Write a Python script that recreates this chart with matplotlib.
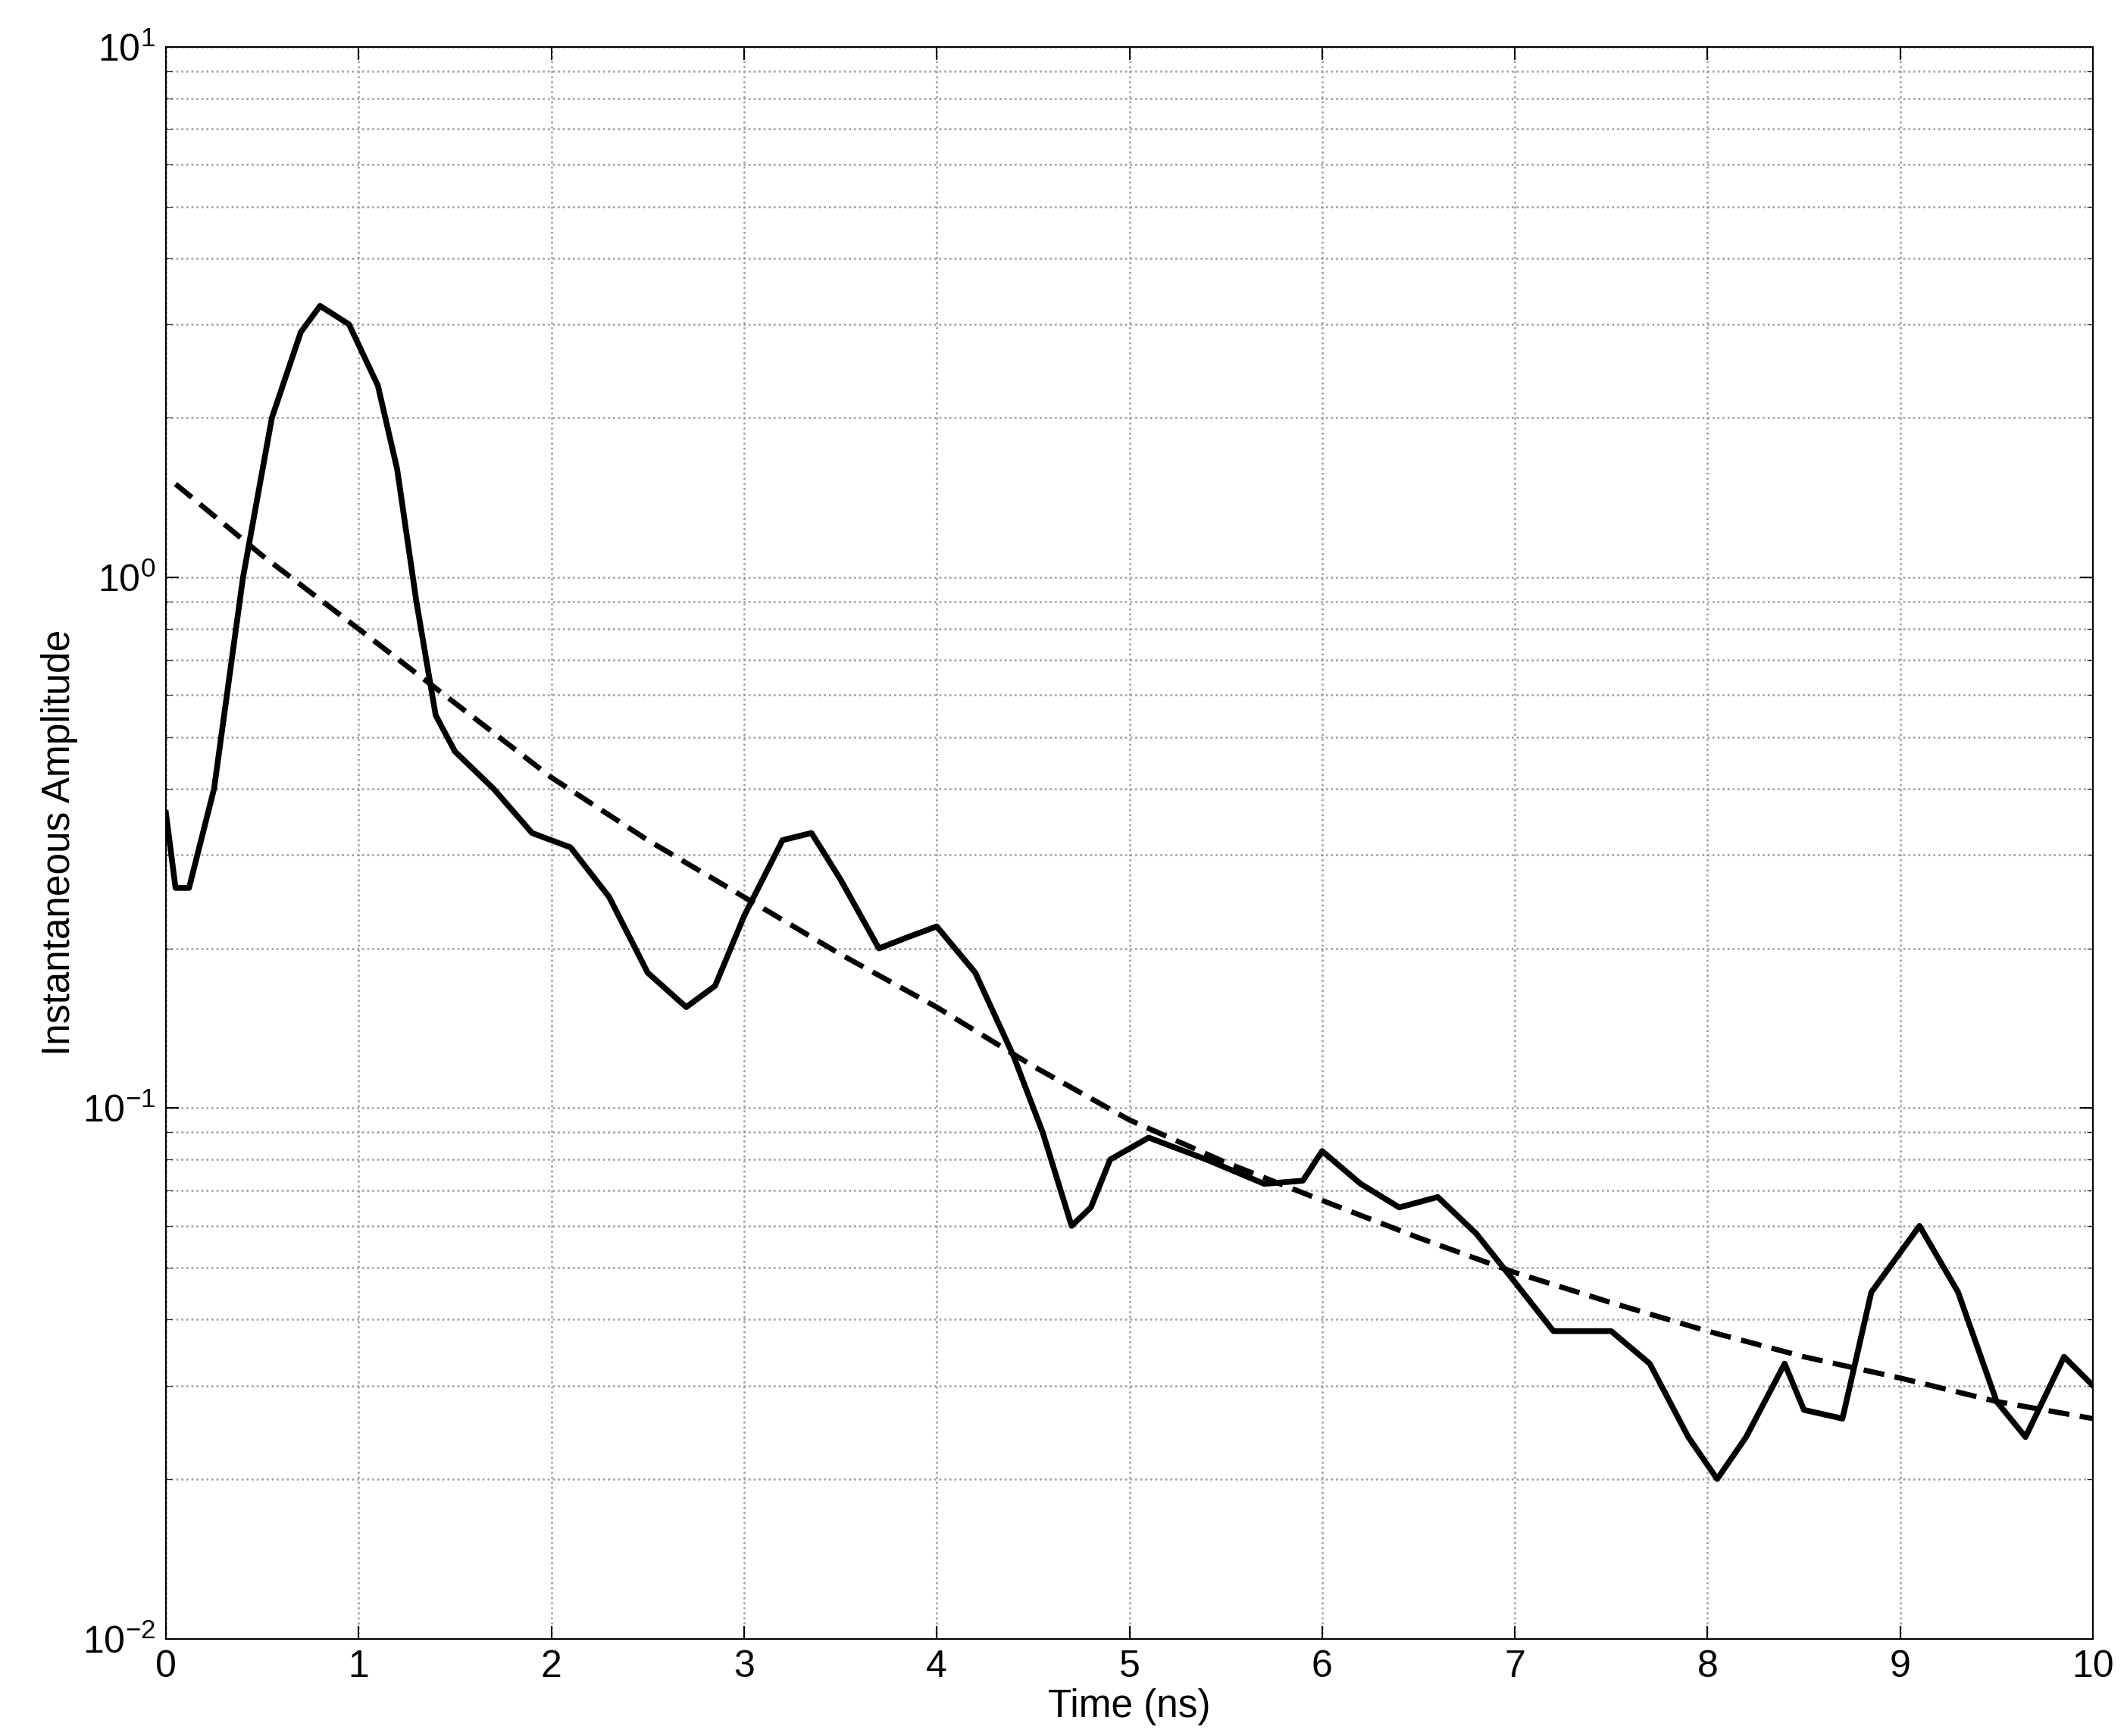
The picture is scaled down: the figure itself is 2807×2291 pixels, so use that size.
import matplotlib
matplotlib.use("Agg")
import matplotlib.pyplot as plt
from matplotlib.ticker import LogLocator, MultipleLocator

plt.rcParams['font.family'] = ['Liberation Sans', 'DejaVu Sans']

# measured instantaneous amplitude
t_meas = [0, 0.05, 0.12, 0.25, 0.4, 0.55, 0.7, 0.8, 0.95, 1.1, 1.2, 1.3, 1.4, 1.5, 1.7, 1.9,
          2.1, 2.3, 2.5, 2.7, 2.85, 3.0, 3.2, 3.35, 3.5, 3.7, 3.85, 4.0, 4.2, 4.4, 4.55,
          4.7, 4.8, 4.9, 5.1, 5.4, 5.7, 5.9, 6.0, 6.2, 6.4, 6.6, 6.8, 7.0, 7.2, 7.5,
          7.7, 7.9, 8.05, 8.2, 8.4, 8.5, 8.7, 8.85, 9.1, 9.3, 9.5, 9.65, 9.85, 10.0]
a_meas = [0.36, 0.26, 0.26, 0.40, 1.0, 2.0, 2.9, 3.25, 3.0, 2.3, 1.6, 0.9, 0.55, 0.47, 0.40, 0.33,
          0.31, 0.25, 0.18, 0.155, 0.17, 0.23, 0.32, 0.33, 0.27, 0.20, 0.21, 0.22, 0.18, 0.125, 0.09,
          0.06, 0.065, 0.08, 0.088, 0.080, 0.072, 0.073, 0.083, 0.072, 0.065, 0.068, 0.058, 0.047, 0.038, 0.038,
          0.033, 0.024, 0.020, 0.024, 0.033, 0.027, 0.026, 0.045, 0.060, 0.045, 0.028, 0.024, 0.034, 0.030]

# fitted decay
t_fit = [0.05, 0.5, 1, 1.5, 2, 2.5, 3, 3.5, 4, 4.5, 5, 5.5, 6, 6.5, 7, 7.5, 8, 8.5, 9, 9.5, 10]
a_fit = [1.5, 1.1, 0.80, 0.58, 0.42, 0.32, 0.25, 0.195, 0.155, 0.12, 0.095, 0.079, 0.067,
         0.057, 0.049, 0.043, 0.038, 0.034, 0.031, 0.028, 0.026]

fig = plt.figure(figsize=(28.07, 22.91), dpi=100)
ax = fig.add_axes([0.078, 0.056, 0.906, 0.917])
ax.semilogy(t_meas, a_meas, color='black', lw=5.5)
ax.semilogy(t_fit, a_fit, color='black', lw=5, ls=(0, (4, 2)))
ax.set_xlim(0, 10)
ax.set_ylim(1e-2, 1e1)
ax.xaxis.set_major_locator(MultipleLocator(1))
ax.yaxis.set_major_locator(LogLocator(base=10))
ax.yaxis.set_minor_locator(LogLocator(base=10, subs=range(2, 10)))
ax.grid(True, which='major', color='#999999', ls=':', lw=1.8)
ax.grid(True, which='minor', axis='y', color='#999999', ls=':', lw=1.8)
ax.tick_params(labelsize=36, direction='in', length=12, width=1.5, top=True, right=True, pad=10)
ax.tick_params(which='minor', direction='in', length=6, right=True)
ax.set_xlabel('Time (ns)', fontsize=37)
ax.set_ylabel('Instantaneous Amplitude', fontsize=37)
for s in ax.spines.values():
    s.set_linewidth(1.5)
fig.savefig('out.png')
